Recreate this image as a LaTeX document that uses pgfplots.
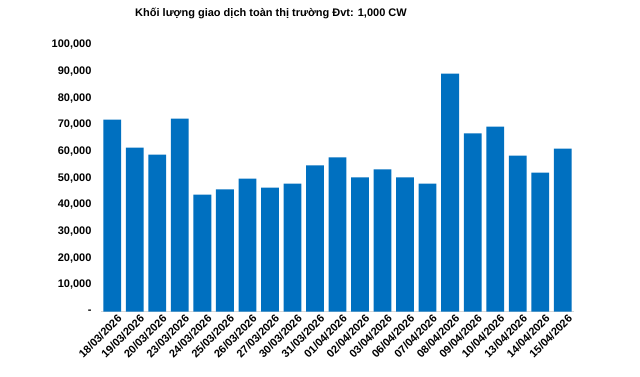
\documentclass[border=0pt]{standalone}
\usepackage{fontspec}
\setmainfont{Liberation Sans}
\usepackage{pgfplots}
\pgfplotsset{compat=1.18}
\definecolor{barblue}{HTML}{0070C0}
\begin{document}
\begin{tikzpicture}[x=1pt,y=1pt]
\useasboundingbox (0,0) rectangle (640,376);
\fill[white] (0,0) rectangle (640,376);
\node[font=\bfseries\fontsize{11}{13}\selectfont] at (271,363) {Khối lượng giao dịch toàn thị trường Đvt: 1,000 CW};
\begin{axis}[
  at={(101pt,64.5pt)}, anchor=south west,
  scale only axis, width=473pt, height=266.5pt,
  xmin=-0.5, xmax=20.5, ymin=0, ymax=100000,
  scaled y ticks=false,
  axis x line*=bottom, axis y line*=left,
  y axis line style={draw=none},
  x axis line style={draw=black!15, line width=1pt},
  tick style={draw=none},
  ytick={0,10000,...,100000},
  yticklabels={{-\hspace{6pt}},{10,000},{20,000},{30,000},{40,000},{50,000},{60,000},{70,000},{80,000},{90,000},{100,000}},
  yticklabel style={font=\bfseries\fontsize{11}{13}\selectfont, xshift=-6pt},
  xtick={0,...,20},
  xticklabels={18/03/2026,19/03/2026,20/03/2026,23/03/2026,24/03/2026,25/03/2026,26/03/2026,27/03/2026,30/03/2026,31/03/2026,01/04/2026,02/04/2026,03/04/2026,06/04/2026,07/04/2026,08/04/2026,09/04/2026,10/04/2026,13/04/2026,14/04/2026,15/04/2026},
  xticklabel style={font=\bfseries\fontsize{11}{13}\selectfont, rotate=45, anchor=east, xshift=5pt, yshift=-9pt},
]
\addplot[ybar, fill=barblue, draw=none, bar width=0.79] coordinates {
(0,72000) (1,61500) (2,58900) (3,72400) (4,43900) (5,45800) (6,49900)
(7,46500) (8,48000) (9,54800) (10,57800) (11,50300) (12,53300) (13,50300)
(14,48000) (15,89300) (16,66800) (17,69400) (18,58500) (19,52100) (20,61100)
};
\end{axis}
\end{tikzpicture}
\end{document}
